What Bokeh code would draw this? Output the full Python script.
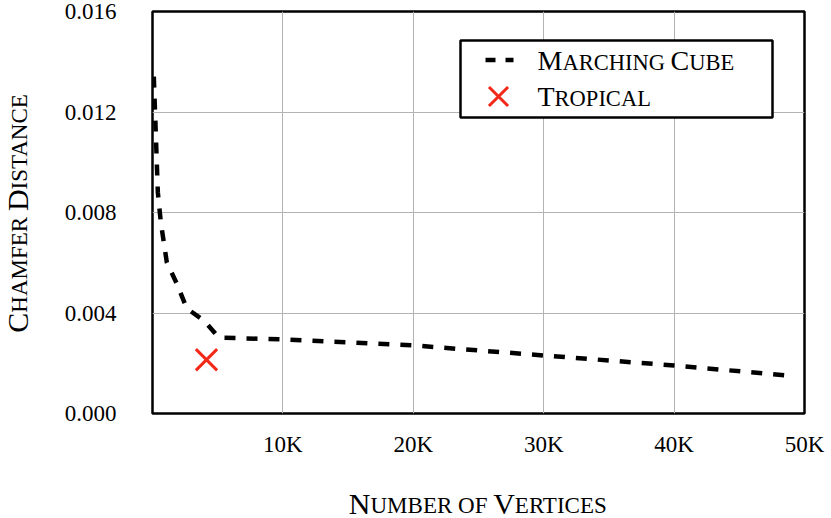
import math
from bokeh.plotting import figure
from bokeh.layouts import row, column
from bokeh.models import Range1d, FixedTicker, Label
from bokeh.embed import file_html
from bokeh.resources import INLINE

# ---------------- data ----------------
mc_vertices = [100, 410, 640, 1100, 1860, 2630, 3940, 5090, 10000, 20000, 30000, 40000, 48760]
mc_chamfer = [0.01341, 0.00880, 0.00760, 0.00601, 0.00517, 0.00418, 0.00370, 0.00302,
              0.00295, 0.00271, 0.00231, 0.00191, 0.00151]
tropical_vertices = [4140]
tropical_chamfer = [0.00214]

x_ticks = [10000, 20000, 30000, 40000, 50000]
x_tick_labels = ["10K", "20K", "30K", "40K", "50K"]
y_ticks = [0.0, 0.004, 0.008, 0.012, 0.016]
y_tick_labels = ["0.000", "0.004", "0.008", "0.012", "0.016"]
series_names = ["Marching Cube", "Tropical"]
x_title = "Number of Vertices"
y_title = "Chamfer Distance"

# ---------------- layout (window pixels) ----------------
TOTAL_W, TOTAL_H = 831, 518
LEFT_W = 40                     # strip holding the y title
MAIN_H = 470                    # main figure height
FL, FR, FT, FB = 152, 804, 11, 413   # frame edges
XMIN, XMAX = 0, 50000
YMIN, YMAX = 0.0, 0.016
FONT = "Liberation Serif"
RED = "#f22818"
BASELINE_FIX = 0.35   # Label's alphabetic anchor sits this fraction of a font size above the glyph baseline


def dx(px):
    return XMIN + (px - FL) / (FR - FL) * (XMAX - XMIN)


def dy(py):
    return YMIN + (FB - py) / (FB - FT) * (YMAX - YMIN)


MAIN_W = TOTAL_W - LEFT_W
p = figure(width=MAIN_W, height=MAIN_H, x_range=Range1d(XMIN, XMAX),
           y_range=Range1d(YMIN, YMAX), output_backend="svg", toolbar_location=None,
           title=None, frame_align=False,
           min_border_left=FL - LEFT_W, min_border_right=TOTAL_W - FR,
           min_border_top=FT, min_border_bottom=MAIN_H - FB)
p.background_fill_color = "white"
p.border_fill_color = "white"
p.outline_line_color = "black"
p.outline_line_width = 2.5

p.xaxis.ticker = FixedTicker(ticks=x_ticks)
p.xaxis.major_label_overrides = dict(zip(x_ticks, x_tick_labels))
p.yaxis.ticker = FixedTicker(ticks=y_ticks)
p.yaxis.major_label_overrides = dict(zip(y_ticks, y_tick_labels))
for ax in (p.xaxis, p.yaxis):
    ax.axis_line_color = None
    ax.major_tick_line_color = None
    ax.minor_tick_line_color = None
    ax.major_tick_out = 0
    ax.major_tick_in = 0
    ax.major_label_text_font = FONT
    ax.major_label_text_font_size = "23px"
    ax.major_label_text_color = "black"
p.xaxis.major_label_standoff = 18
p.yaxis.major_label_standoff = 36

p.xgrid.ticker = FixedTicker(ticks=x_ticks[:-1])
p.ygrid.ticker = FixedTicker(ticks=y_ticks[1:-1])
for g in (p.xgrid, p.ygrid):
    g.grid_line_color = "#b3b3b3"
    g.grid_line_width = 1

# ---------------- data marks ----------------
p.line(mc_vertices, mc_chamfer, line_color="black", line_width=4.5, line_dash="11 11")
p.scatter(tropical_vertices, tropical_chamfer, marker="x", size=30, line_width=3,
          line_color=RED)

# ---------------- small-caps text helper ----------------
ADV = {"A": 722, "B": 667, "C": 667, "D": 722, "E": 611, "F": 556, "G": 722, "H": 722,
       "I": 333, "J": 389, "K": 722, "L": 611, "M": 889, "N": 722, "O": 722, "P": 556,
       "Q": 722, "R": 667, "S": 556, "T": 611, "U": 722, "V": 722, "W": 944, "X": 722,
       "Y": 722, "Z": 611, " ": 250}


def sc_pieces(text, big, small):
    pieces = []
    cur, cur_big = "", None
    for ch in text:
        is_big = ch.isupper()
        if cur and is_big != cur_big:
            pieces.append((cur, cur_big))
            cur = ""
        cur += ch
        cur_big = is_big
    if cur:
        pieces.append((cur, cur_big))
    out = []
    for s, b in pieces:
        size = big if b else small
        u = s.upper()
        w = sum(ADV.get(c, 600) for c in u) * size / 1000.0
        out.append((u, size, w))
    return out


def place_sc(fig, text, big, small, x0, y0, px_to_data, vertical=False, center=False):
    """x0, y0: start of the baseline in the figure's own pixel space (y up)."""
    pieces = sc_pieces(text, big, small)
    total = sum(w for _, _, w in pieces)
    pos = -total / 2 if center else 0.0
    for s, size, w in pieces:
        t = s.strip()
        if t:
            lead = (len(s) - len(s.lstrip())) * ADV[" "] * size / 1000.0
            fix = BASELINE_FIX * size
            if vertical:
                x, y = x0 - fix, y0 + pos + lead
            else:
                x, y = x0 + pos + lead, y0 + fix
            fx, fy = px_to_data(x, y)
            fig.add_layout(Label(x=fx, y=fy, text=t, text_font=FONT,
                                 text_font_size=f"{size}px", text_color="black",
                                 text_align="left", text_baseline="alphabetic",
                                 angle=math.pi / 2 if vertical else 0))
        pos += w


# ---------------- legend (inside the frame) ----------------
p.rect(x=[dx(616)], y=[dy(78.5)], width=312, height=77, width_units="screen",
       height_units="screen", fill_color="white", line_color="black", line_width=2.5)
p.line([dx(485), dx(513)], [dy(59.5), dy(59.5)], line_color="black", line_width=4.5,
       line_dash="10 10")
p.scatter([dx(498)], [dy(96)], marker="x", size=27, line_width=3, line_color=RED)


def main_px(x, y):   # x: window px, y: window px measured up from frame bottom
    return dx(x), dy(FB - y)


place_sc(p, series_names[0], 28, 22.5, 537, FB - 70, main_px)
place_sc(p, series_names[1], 28, 22.5, 537, FB - 105.5, main_px)


def strip(w, h):
    f = figure(width=w, height=h, x_range=Range1d(0, w), y_range=Range1d(0, h),
               x_axis_type=None, y_axis_type=None, title=None, frame_align=False,
               output_backend="svg", toolbar_location=None, min_border=0)
    f.outline_line_color = None
    f.background_fill_color = "white"
    f.border_fill_color = "white"
    return f


# ---------------- y title strip ----------------
left = strip(LEFT_W, TOTAL_H)
place_sc(left, y_title, 30, 23, 27, TOTAL_H - (FT + FB) / 2, lambda x, y: (x, y),
         vertical=True, center=True)

# ---------------- x title strip ----------------
BOT_H = TOTAL_H - MAIN_H
bottom = strip(MAIN_W, BOT_H)
place_sc(bottom, x_title, 30, 23, (FL + FR) / 2 - LEFT_W, TOTAL_H - 513,
         lambda x, y: (x, y), center=True)

layout = row(left, column(p, bottom, spacing=0), spacing=0)
open("out.html", "w").write(file_html(layout, INLINE))
